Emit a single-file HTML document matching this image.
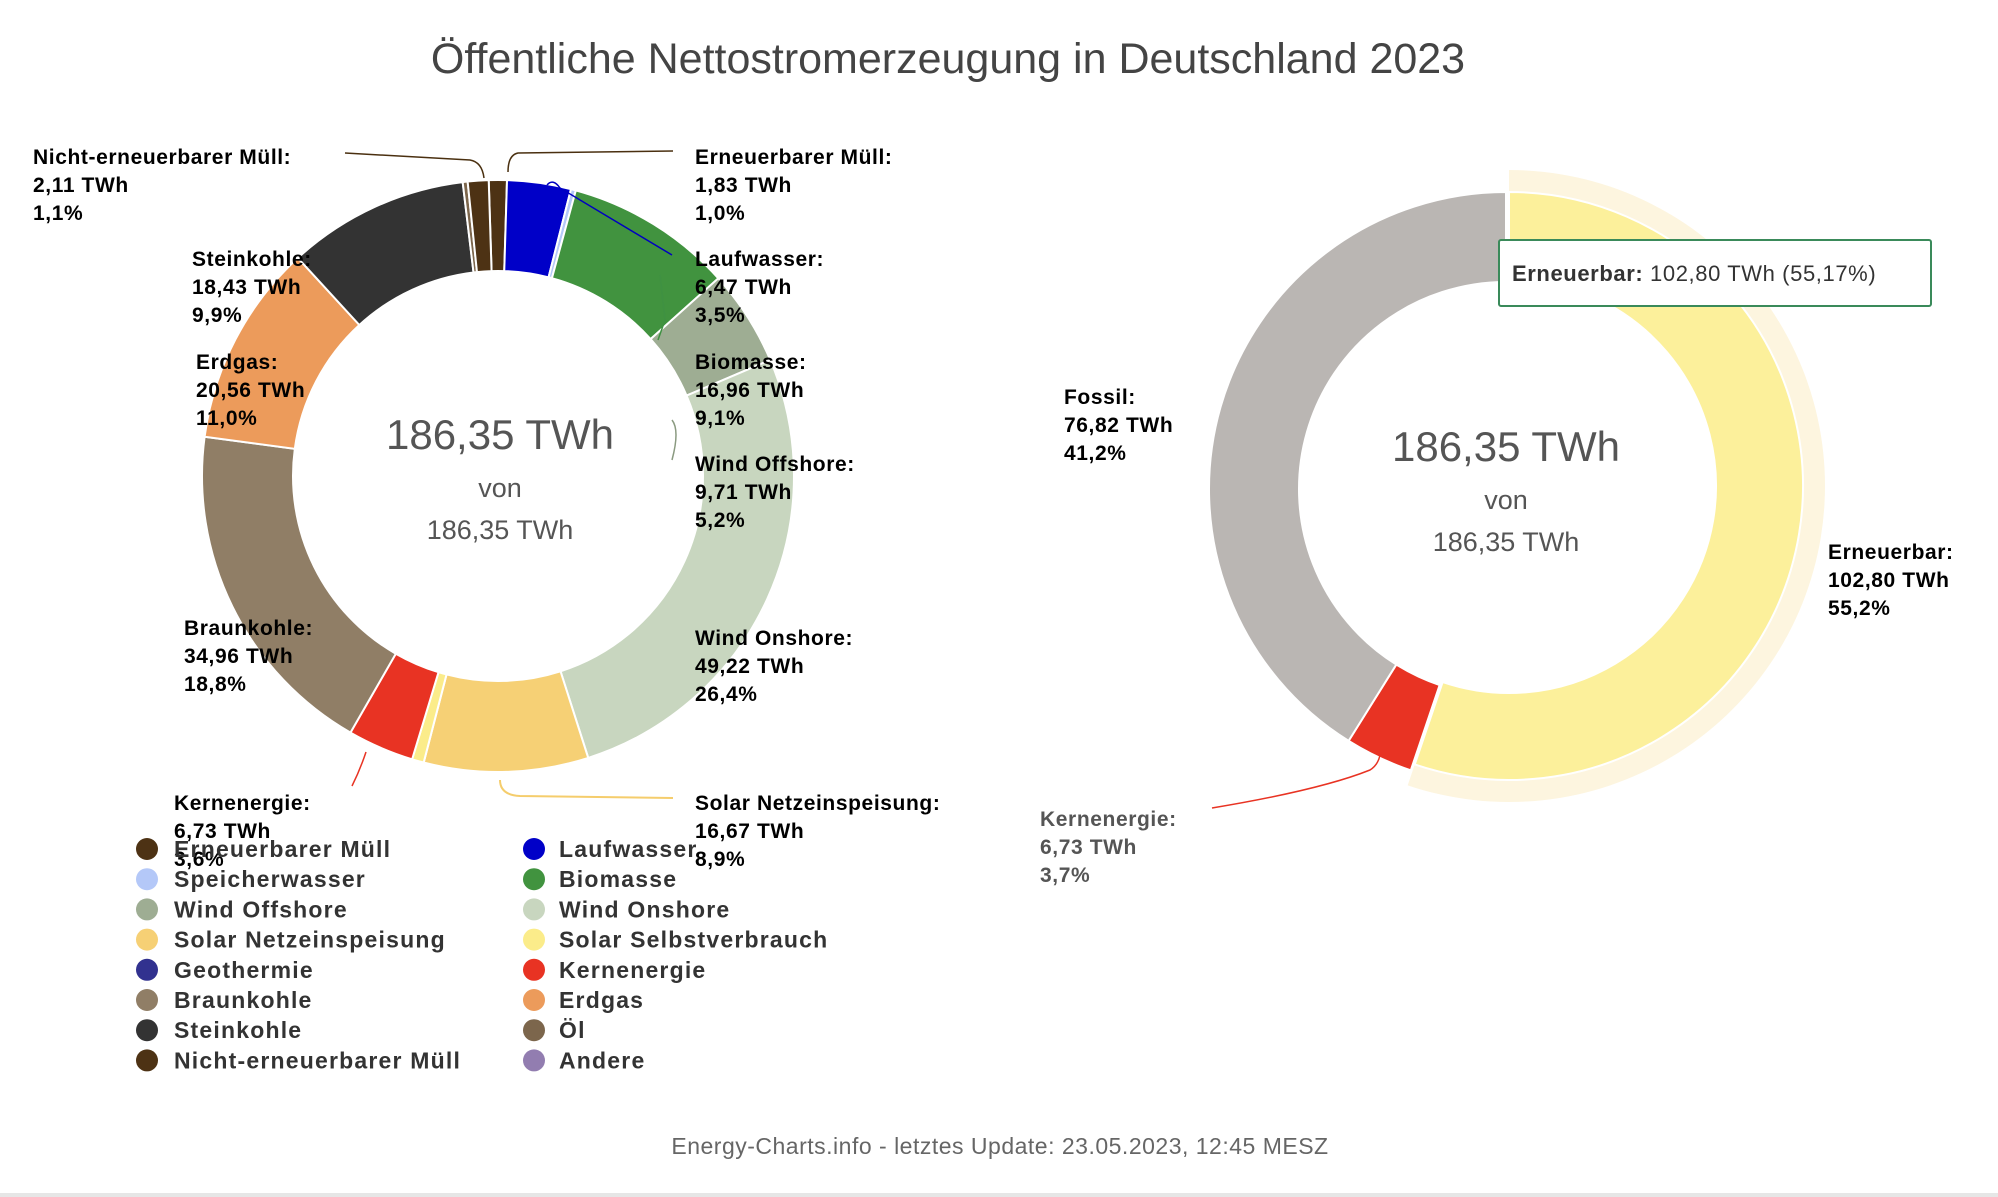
<!DOCTYPE html>
<html><head><meta charset="utf-8">
<style>
body{margin:0;width:1998px;height:1197px;background:#fff;overflow:hidden;font-family:"Liberation Sans",sans-serif;}
svg{position:absolute;left:0;top:0}
.lb{font-family:"Liberation Sans",sans-serif;font-weight:bold;font-size:21px;letter-spacing:0.6px;fill:#000}
.lg{font-family:"Liberation Sans",sans-serif;font-weight:bold;font-size:23px;letter-spacing:1.2px;fill:#333}
</style></head><body>
<svg id="s" width="1998" height="1197" viewBox="0 0 1998 1197" xmlns="http://www.w3.org/2000/svg">
<text x="948" y="73" text-anchor="middle" font-size="43" fill="#444" font-family="Liberation Sans,sans-serif">Öffentliche Nettostromerzeugung in Deutschland 2023</text>
<g id="left"></g>
<g id="right"></g>
<g fill="none" stroke-width="1.5">
<path d="M345 153 L470 160 Q482 162 484 178" stroke="#4a3010"/>
<path d="M673 151 L518 153 Q508 155 508 172" stroke="#4a3010"/>
<path d="M547 185 Q553 178 560 188 L672 255" stroke="#0000c0"/>
<path d="M660 275 L665 320 L658 340" stroke="#3f9142"/>
<path d="M672 420 Q680 430 672 460" stroke="#8a9a80"/>
<path d="M352 786 Q360 770 366 752" stroke="#e83323"/>
<path d="M500 780 Q500 795 520 796 L673 798" stroke="#f5cd6c" stroke-width="2"/>
<path d="M1212 808 Q1320 790 1370 770 Q1378 765 1380 755" stroke="#e83323"/>
</g>
<g font-family="Liberation Sans,sans-serif" fill="#555" text-anchor="middle">
<text x="500" y="449" font-size="42">186,35 TWh</text>
<text x="500" y="497" font-size="27">von</text>
<text x="500" y="539" font-size="27">186,35 TWh</text>
<text x="1506" y="461" font-size="42">186,35 TWh</text>
<text x="1506" y="509" font-size="27">von</text>
<text x="1506" y="551" font-size="27">186,35 TWh</text>
</g>
<g>
<text class="lb" x="33" y="164">Nicht-erneuerbarer Müll:</text><text class="lb" x="33" y="192">2,11 TWh</text><text class="lb" x="33" y="220">1,1%</text>
<text class="lb" x="695" y="164">Erneuerbarer Müll:</text><text class="lb" x="695" y="192">1,83 TWh</text><text class="lb" x="695" y="220">1,0%</text>
<text class="lb" x="192" y="266">Steinkohle:</text><text class="lb" x="192" y="294">18,43 TWh</text><text class="lb" x="192" y="322">9,9%</text>
<text class="lb" x="695" y="266">Laufwasser:</text><text class="lb" x="695" y="294">6,47 TWh</text><text class="lb" x="695" y="322">3,5%</text>
<text class="lb" x="196" y="369">Erdgas:</text><text class="lb" x="196" y="397">20,56 TWh</text><text class="lb" x="196" y="425">11,0%</text>
<text class="lb" x="695" y="369">Biomasse:</text><text class="lb" x="695" y="397">16,96 TWh</text><text class="lb" x="695" y="425">9,1%</text>
<text class="lb" x="695" y="471">Wind Offshore:</text><text class="lb" x="695" y="499">9,71 TWh</text><text class="lb" x="695" y="527">5,2%</text>
<text class="lb" x="184" y="635">Braunkohle:</text><text class="lb" x="184" y="663">34,96 TWh</text><text class="lb" x="184" y="691">18,8%</text>
<text class="lb" x="695" y="645">Wind Onshore:</text><text class="lb" x="695" y="673">49,22 TWh</text><text class="lb" x="695" y="701">26,4%</text>
<text class="lb" x="174" y="810">Kernenergie:</text><text class="lb" x="174" y="838">6,73 TWh</text><text class="lb" x="174" y="866">3,6%</text>
<text class="lb" x="695" y="810">Solar Netzeinspeisung:</text><text class="lb" x="695" y="838">16,67 TWh</text><text class="lb" x="695" y="866">8,9%</text>
<text class="lb" x="1064" y="404">Fossil:</text><text class="lb" x="1064" y="432">76,82 TWh</text><text class="lb" x="1064" y="460">41,2%</text>
<text class="lb" x="1828" y="559">Erneuerbar:</text><text class="lb" x="1828" y="587">102,80 TWh</text><text class="lb" x="1828" y="615">55,2%</text>
<text class="lb" x="1040" y="826" style="fill:#555">Kernenergie:</text><text class="lb" x="1040" y="854" style="fill:#555">6,73 TWh</text><text class="lb" x="1040" y="882" style="fill:#555">3,7%</text>
</g>
<rect x="1499" y="240" width="432" height="66" fill="#fff" stroke="#3a8a5a" stroke-width="2" rx="2"/>
<text x="1512" y="281" font-size="22" letter-spacing="0.6" font-family="Liberation Sans,sans-serif" fill="#333"><tspan font-weight="bold">Erneuerbar:</tspan> 102,80 TWh (55,17%)</text>
<g id="leg"></g>
<text x="1000" y="1154" text-anchor="middle" font-size="23" letter-spacing="0.5" fill="#666" font-family="Liberation Sans,sans-serif">Energy-Charts.info - letztes Update: 23.05.2023, 12:45 MESZ</text>
<rect x="0" y="1193" width="1998" height="4" fill="#e6e6e6"/>
</svg>
<script>
function arc(cx,cy,r0,r1,a0,a1,col,sw){
 const t=a=>(a-90)*Math.PI/180;
 const p=(r,a)=>[cx+r*Math.cos(t(a)),cy+r*Math.sin(t(a))];
 const L=(a1-a0)>180?1:0;
 const [x1,y1]=p(r1,a0),[x2,y2]=p(r1,a1),[x3,y3]=p(r0,a1),[x4,y4]=p(r0,a0);
 return `<path d="M${x1} ${y1}A${r1} ${r1} 0 ${L} 1 ${x2} ${y2}L${x3} ${y3}A${r0} ${r0} 0 ${L} 0 ${x4} ${y4}Z" fill="${col}" stroke="#fff" stroke-width="${sw===undefined?2:sw}"/>`;
}
const data=[[1.83,'#4d3214'],[6.47,'#0000c8'],[0.5,'#b4c8f8'],[16.96,'#41933f'],[9.71,'#9ead93'],[49.22,'#c8d6bf'],[16.67,'#f6d075'],[1.2,'#fbec8a'],[6.73,'#e83323'],[34.96,'#907e66'],[20.56,'#ec9b5b'],[18.43,'#333333'],[0.5,'#7c664c'],[2.11,'#4d3214']];
let tot=data.reduce((s,d)=>s+d[0],0),a=-1.8,h='';
for(const [v,c] of data){const b=a+v/tot*360;h+=arc(498,476,205,296,a,b,c);a=b;}
document.getElementById('left').innerHTML=h;
let r='';
r+=arc(1509,486,294,316,0,198.7,'#fdf5df',0);
r+=arc(1509,486,207,294,0,198.7,'#fcf09b');
r+=arc(1506,489,207,297,198.7,212,'#e83323');
r+=arc(1506,489,207,297,212,360,'#bab6b3');
document.getElementById('right').innerHTML=r;
const L1=[['Erneuerbarer Müll','#4d3214'],['Speicherwasser','#b4c8f8'],['Wind Offshore','#9ead93'],['Solar Netzeinspeisung','#f6d075'],['Geothermie','#31318f'],['Braunkohle','#907e66'],['Steinkohle','#333333'],['Nicht-erneuerbarer Müll','#4d3214']];
const L2=[['Laufwasser','#0000c8'],['Biomasse','#41933f'],['Wind Onshore','#c8d6bf'],['Solar Selbstverbrauch','#fbec8a'],['Kernenergie','#e83323'],['Erdgas','#ec9b5b'],['Öl','#7c664c'],['Andere','#927db0']];
let g='';
[[L1,147,174],[L2,534,559]].forEach(([L,mx,tx])=>L.forEach(([n,c],i)=>{const y=849+i*30.2;g+=`<circle cx="${mx}" cy="${y}" r="11" fill="${c}"/><text class="lg" x="${tx}" y="${y+8}">${n}</text>`;}));
document.getElementById('leg').innerHTML=g;
</script>
</body></html>
